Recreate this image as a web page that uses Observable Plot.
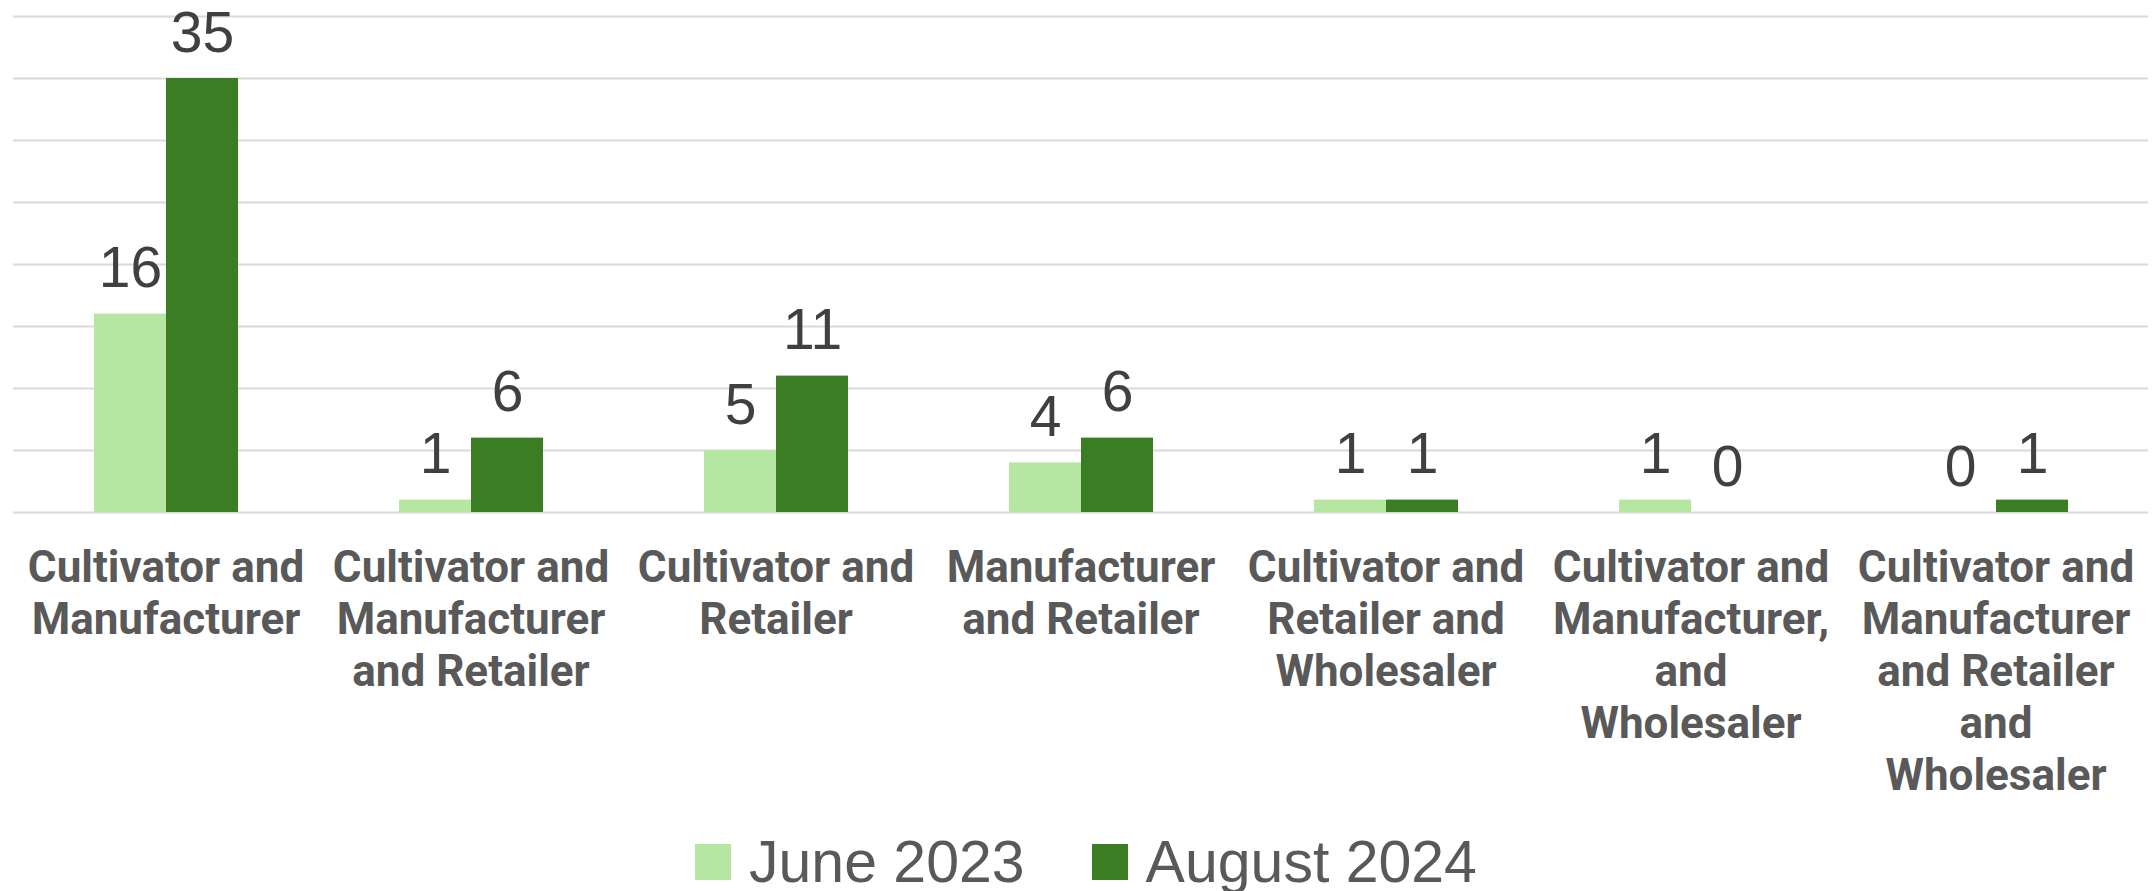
<!DOCTYPE html>
<html>
<head>
<meta charset="utf-8">
<script src="https://cdn.jsdelivr.net/npm/d3@7"></script>
<script src="https://cdn.jsdelivr.net/npm/@observablehq/plot@0.6"></script>
<style>
  html, body { margin: 0; padding: 0; background: #fff; }
  #chart svg { display: block; }
  #legend {
    height: 61px; box-sizing: border-box; padding-top: 3px; padding-left: 695px;
    display: flex; align-items: center;
    font-family: "Liberation Sans", Arial, sans-serif; font-size: 59px; line-height: 59px; color: #595959;
  }
  .item { display: flex; align-items: center; height: 59px; }
  .item + .item { margin-left: 67px; }
  .sw { width: 36px; height: 36px; margin-right: 18px; }
</style>
</head>
<body>
<div id="chart"></div>
<div id="legend"></div>
<script>
const categories = [
  "Cultivator and Manufacturer",
  "Cultivator and Manufacturer and Retailer",
  "Cultivator and Retailer",
  "Manufacturer and Retailer",
  "Cultivator and Retailer and Wholesaler",
  "Cultivator and Manufacturer, and Wholesaler",
  "Cultivator and Manufacturer and Retailer and Wholesaler"
];
const categoryLabels = [
  "Cultivator and\nManufacturer",
  "Cultivator and\nManufacturer\nand Retailer",
  "Cultivator and\nRetailer",
  "Manufacturer\nand Retailer",
  "Cultivator and\nRetailer and\nWholesaler",
  "Cultivator and\nManufacturer,\nand\nWholesaler",
  "Cultivator and\nManufacturer\nand Retailer\nand\nWholesaler"
];
const series = ["June 2023", "August 2024"];
const june2023 = [16, 1, 5, 4, 1, 1, 0];
const august2024 = [35, 6, 11, 6, 1, 0, 1];
const yTicks = [0, 5, 10, 15, 20, 25, 30, 35, 40];
const colors = ["#b5e6a2", "#3b7d23"];

const rows = [];
categories.forEach((c, i) => {
  rows.push({category: c, series: series[0], value: june2023[i]});
  rows.push({category: c, series: series[1], value: august2024[i]});
});
const labelOf = new Map(categories.map((c, i) => [c, categoryLabels[i]]));

const chart = Plot.plot({
  width: 2154,
  height: 830,
  marginLeft: 12,
  marginRight: 6,
  marginTop: 16,
  marginBottom: 318,
  fx: {domain: categories, padding: 0, label: null},
  x: {domain: series, paddingInner: 0, paddingOuter: 1.118, axis: null},
  y: {domain: [0, 40], axis: null},
  color: {domain: series, range: colors},
  marks: [
    Plot.ruleY(yTicks, {stroke: "#d9d9d9", strokeWidth: 2}),
    Plot.barY(rows, {fx: "category", x: "series", y: "value", fill: "series"}),
    Plot.text(rows, {
      fx: "category", x: "series", y: "value", text: d => String(d.value),
      dy: -45, fontSize: 57, fill: "#404040",
      fontFamily: "Liberation Sans, Arial, sans-serif"
    }),
    Plot.axisFx({
      anchor: "bottom", tickSize: 0, tickPadding: 33, label: null,
      tickFormat: d => labelOf.get(d),
      fontSize: 44, lineHeight: 52 / 44, fill: "#595959",
      fontWeight: "bold", fontFamily: "Roboto, sans-serif"
    })
  ]
});
document.getElementById("chart").appendChild(chart);

const legend = document.getElementById("legend");
series.forEach((s, i) => {
  const item = document.createElement("div");
  item.className = "item";
  const sw = document.createElement("div");
  sw.className = "sw";
  sw.style.background = colors[i];
  const t = document.createElement("span");
  t.textContent = s;
  item.appendChild(sw);
  item.appendChild(t);
  legend.appendChild(item);
});
</script>
</body>
</html>
